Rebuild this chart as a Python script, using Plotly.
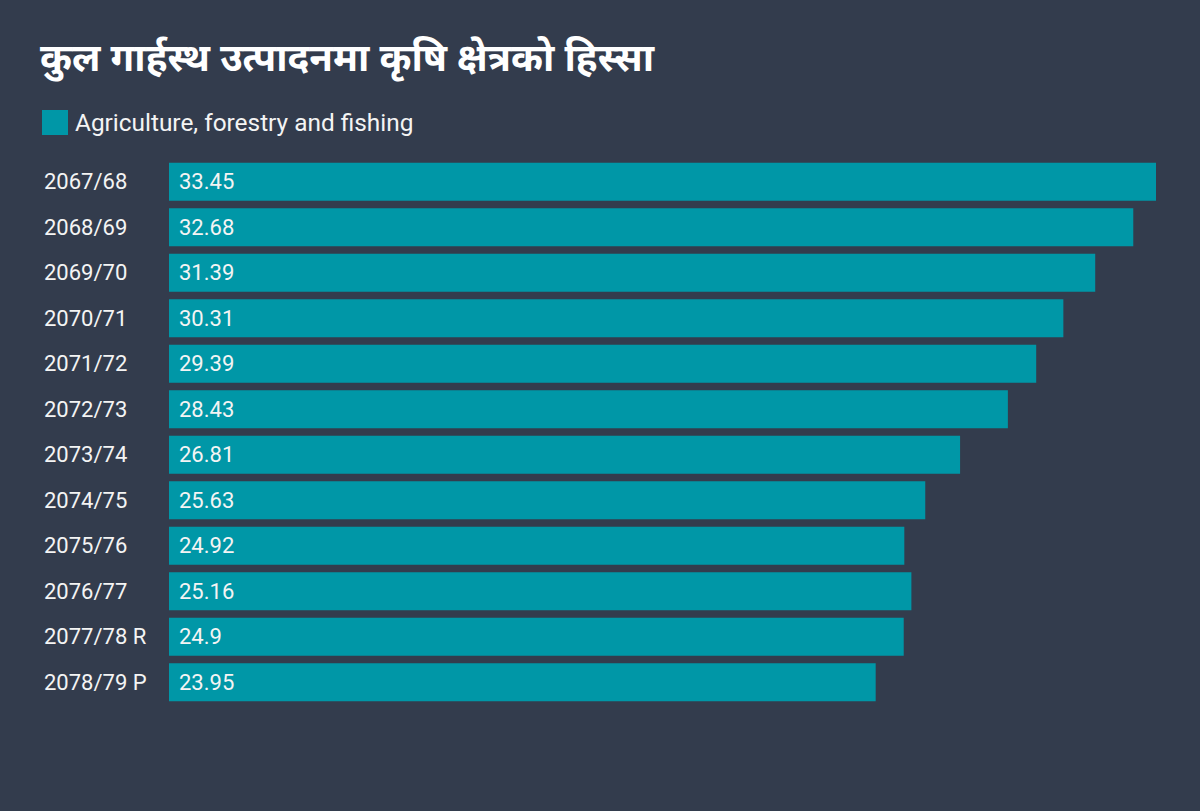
import plotly.graph_objects as go

categories = ["2067/68", "2068/69", "2069/70", "2070/71", "2071/72", "2072/73",
              "2073/74", "2074/75", "2075/76", "2076/77", "2077/78 R", "2078/79 P"]
values = [33.45, 32.68, 31.39, 30.31, 29.39, 28.43, 26.81, 25.63, 24.92, 25.16, 24.9, 23.95]
series_name = "Agriculture, forestry and fishing"
title_text = "कुल गार्हस्थ उत्पादनमा कृषि क्षेत्रको हिस्सा"

BG = "#333c4d"
BAR = "#0097a7"
TXT = "#f4f4f4"
W, H = 1200, 811
L, R, T, B = 169, 44, 159, 106
PW, PH = W - L - R, H - T - B


def px_x(px):
    return (px - L) / PW


def px_y(py):
    return (H - B - py) / PH


fig = go.Figure()
fig.add_trace(go.Bar(
    x=values, y=categories, orientation="h",
    marker=dict(color=BAR, line=dict(width=0)),
    name=series_name, showlegend=False, hoverinfo="x+y",
))

annotations = []
for c, v in zip(categories, values):
    annotations.append(dict(
        x=0, y=c, xref="x", yref="y", text=str(v), showarrow=False,
        xanchor="left", xshift=8, font=dict(family="Roboto", size=22, color=TXT),
    ))
    annotations.append(dict(
        x=px_x(42), y=c, xref="paper", yref="y", text=c, showarrow=False,
        xanchor="left", font=dict(family="Roboto", size=22, color=TXT),
    ))

annotations.append(dict(
    x=px_x(73), y=px_y(122), xref="paper", yref="paper", text=series_name,
    showarrow=False, xanchor="left", yanchor="middle",
    font=dict(family="Roboto", size=24.4, color=TXT),
))

shapes = [dict(
    type="rect", xref="paper", yref="paper",
    x0=px_x(42), x1=px_x(68), y0=px_y(135), y1=px_y(110),
    fillcolor=BAR, line=dict(width=0),
)]

fig.update_layout(
    width=W, height=H,
    paper_bgcolor=BG, plot_bgcolor=BG,
    margin=dict(l=L, r=R, t=T, b=B),
    title=dict(text="<b>" + title_text + "</b>", x=40 / W, xanchor="left",
               y=1 - 57 / H, yanchor="middle", xref="container", yref="container",
               font=dict(family="Noto Sans Devanagari, Noto Sans, sans-serif", size=38.6, color="white")),
    xaxis=dict(range=[0, max(values)], visible=False, fixedrange=True),
    yaxis=dict(autorange="reversed", showticklabels=False, showgrid=False,
               zeroline=False, fixedrange=True),
    bargap=0.16,
    annotations=annotations,
    shapes=shapes,
    showlegend=False,
)

fig.write_html("out.html", config={"displayModeBar": False},
               post_script="document.body.style.margin='0';document.body.style.background='" + BG + "';")
